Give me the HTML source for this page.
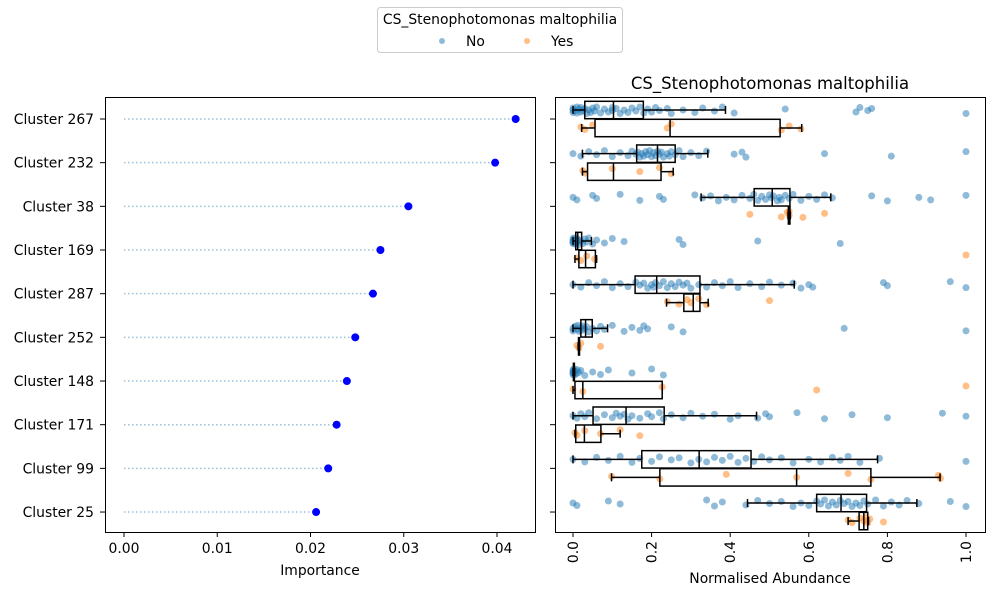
<!DOCTYPE html>
<html><head><meta charset="utf-8"><style>
body{margin:0;background:#fff;}
svg{display:block;font-family:"DejaVu Sans","Liberation Sans",sans-serif;}
</style></head><body>
<svg id="fig" width="1000" height="600" viewBox="0 0 1000 600"></svg>
<script>
const clusters = ["Cluster 267","Cluster 232","Cluster 38","Cluster 169","Cluster 287","Cluster 252","Cluster 148","Cluster 171","Cluster 99","Cluster 25"];
const importance = [0.0420,0.0398,0.0305,0.0275,0.0267,0.0248,0.0239,0.0228,0.0219,0.0206];
const impTicks = [0,0.01,0.02,0.03,0.04];
const impTickLabels = ["0.00","0.01","0.02","0.03","0.04"];
const abTicks = [0,0.2,0.4,0.6,0.8,1.0];
const abTickLabels = ["0.0","0.2","0.4","0.6","0.8","1.0"];
// box stats: [whiskerLow, q1, median, q3, whiskerHigh]
const boxNo = [
 [0,0.03,0.103,0.179,0.388],
 [0.024,0.162,0.215,0.26,0.343],
 [0.326,0.461,0.507,0.552,0.656],
 [0,0.007,0.012,0.022,0.047],
 [0,0.158,0.213,0.323,0.563],
 [0,0.02,0.032,0.049,0.088],
 [0,0.001,0.002,0.003,0.004],
 [0,0.051,0.135,0.232,0.467],
 [0,0.175,0.321,0.453,0.775],
 [0.444,0.62,0.682,0.747,0.875]];
const boxYes = [
 [0.022,0.056,0.247,0.527,0.582],
 [0.024,0.037,0.103,0.224,0.255],
 [0.547,0.548,0.549,0.552,0.553],
 [0.005,0.015,0.032,0.057,0.06],
 [0.238,0.282,0.306,0.323,0.344],
 [0.013,0.014,0.015,0.016,0.017],
 [0,0.005,0.025,0.227,0.227],
 [0.005,0.007,0.029,0.071,0.12],
 [0.098,0.221,0.569,0.758,0.934],
 [0.7,0.728,0.74,0.75,0.752]];
const ptsNo = [
 [0,0,0,0.005,0.01,0.01,0.015,0.02,0.02,0.025,0.03,0.035,0.04,0.045,0.05,0.055,0.06,0.07,0.08,0.09,0.1,0.1,0.11,0.12,0.13,0.14,0.15,0.16,0.17,0.18,0.19,0.2,0.21,0.22,0.24,0.25,0.28,0.31,0.33,0.36,0.38,0.41,0.54,0.72,0.73,0.75,0.76,1.0],
 [0,0.02,0.04,0.06,0.08,0.1,0.12,0.14,0.15,0.16,0.165,0.17,0.175,0.18,0.185,0.19,0.195,0.2,0.205,0.21,0.215,0.22,0.225,0.23,0.24,0.245,0.25,0.26,0.27,0.28,0.3,0.32,0.34,0.41,0.43,0.44,0.64,0.81,1.0],
 [0,0.01,0.05,0.06,0.12,0.17,0.22,0.23,0.31,0.33,0.35,0.37,0.39,0.41,0.43,0.45,0.46,0.47,0.48,0.49,0.5,0.505,0.51,0.52,0.525,0.53,0.54,0.55,0.56,0.58,0.6,0.62,0.64,0.66,0.76,0.8,0.88,0.91,1.0],
 [0,0,0,0,0.002,0.005,0.005,0.008,0.01,0.01,0.012,0.015,0.02,0.025,0.03,0.035,0.04,0.05,0.06,0.08,0.1,0.13,0.27,0.28,0.47,0.68],
 [0,0.02,0.04,0.06,0.08,0.1,0.12,0.14,0.16,0.17,0.18,0.19,0.2,0.205,0.21,0.22,0.23,0.24,0.25,0.26,0.27,0.28,0.29,0.3,0.32,0.34,0.36,0.38,0.4,0.42,0.45,0.48,0.5,0.53,0.56,0.58,0.6,0.61,0.79,0.8,0.96,1.0],
 [0,0,0.005,0.01,0.012,0.015,0.02,0.022,0.025,0.03,0.035,0.04,0.05,0.06,0.07,0.08,0.1,0.13,0.15,0.17,0.18,0.19,0.25,0.28,0.69,1.0],
 [0,0,0,0,0.002,0.003,0.005,0.008,0.01,0.015,0.02,0.03,0.05,0.07,0.09,0.15,0.2,0.23],
 [0,0.01,0.02,0.03,0.04,0.06,0.08,0.1,0.11,0.12,0.13,0.14,0.15,0.17,0.19,0.2,0.22,0.23,0.25,0.28,0.3,0.33,0.36,0.4,0.42,0.47,0.49,0.5,0.57,0.64,0.71,0.8,0.94,1.0],
 [0,0.03,0.06,0.09,0.12,0.15,0.17,0.2,0.22,0.25,0.27,0.3,0.32,0.34,0.36,0.38,0.4,0.42,0.44,0.46,0.48,0.5,0.53,0.56,0.6,0.63,0.66,0.68,0.7,0.73,0.78,1.0],
 [0,0.01,0.09,0.12,0.34,0.36,0.38,0.44,0.47,0.5,0.53,0.56,0.58,0.6,0.62,0.63,0.64,0.65,0.66,0.67,0.68,0.69,0.7,0.71,0.72,0.73,0.74,0.75,0.77,0.79,0.81,0.83,0.85,0.88,0.96,1.0]];
const ptsYes = [
 [0.02,0.03,0.05,0.24,0.25,0.53,0.55,0.58],
 [0.025,0.03,0.1,0.17,0.22,0.25],
 [0.45,0.53,0.545,0.55,0.55,0.585,0.64],
 [0.01,0.02,0.035,0.055,1.0],
 [0.24,0.27,0.29,0.3,0.32,0.34,0.5],
 [0.01,0.015,0.02,0.07],
 [0,0.025,0.227,0.62,1.0],
 [0.005,0.01,0.03,0.07,0.12,0.17],
 [0.098,0.221,0.39,0.569,0.7,0.758,0.93,0.935],
 [0.7,0.71,0.73,0.74,0.745,0.75,0.755,0.79]];

const NS="http://www.w3.org/2000/svg";
const svg=document.getElementById('fig');
function mk(tag,attrs,parent,text){const e=document.createElementNS(NS,tag);for(const k in attrs)e.setAttribute(k,attrs[k]);if(text!==undefined)e.textContent=text;(parent||svg).appendChild(e);return e;}
const L={x0:105,x1:535,y0:97,y1:532}, R={x0:555,x1:985,y0:97,y1:532};
const FS=13.9;
const xImp=v=>124+v*9325;
const xAb=v=>573+v*393;
const yRow=i=>119+i*43.67;

// legend
const leg=mk('g',{});


mk('rect',{x:377.5,y:7.5,width:245,height:45,rx:3,fill:'#fff',stroke:'#ccc'},leg);
mk('text',{x:500,y:24,'font-size':FS,'text-anchor':'middle'},leg,'CS_Stenophotomonas maltophilia');
const e1=mk('g',{},leg);
mk('circle',{cx:442,cy:41,r:3,fill:'#1f77b4','fill-opacity':0.5},e1);
mk('text',{x:466,y:46,'font-size':FS},e1,'No');
const e2=mk('g',{},leg);
mk('circle',{cx:527,cy:41,r:3,fill:'#ff7f0e','fill-opacity':0.5},e2);
mk('text',{x:551,y:46,'font-size':FS},e2,'Yes');

// left panel
const lp=mk('g',{});
clusters.forEach((c,i)=>{
  const y=yRow(i);
  const ln=mk('line',{x1:xImp(0),x2:xImp(importance[i]),y1:y,y2:y,stroke:'#1f77b4','stroke-opacity':0.45,'stroke-width':1.5,'stroke-dasharray':'1.5,2.5'},lp);
  
  const d=mk('circle',{cx:xImp(importance[i]),cy:y,r:4,fill:'#0000ff'},lp);
  
  mk('line',{x1:L.x0-5,x2:L.x0,y1:y,y2:y,stroke:'#000'},lp);
  const t=mk('text',{x:L.x0-11,y:y+5,'font-size':FS,'text-anchor':'end'},lp,c);
  
});
impTicks.forEach((v,i)=>{
  mk('line',{x1:xImp(v),x2:xImp(v),y1:L.y1,y2:L.y1+5,stroke:'#000'},lp);
  const t=mk('text',{x:xImp(v),y:L.y1+21,'font-size':FS,'text-anchor':'middle'},lp,impTickLabels[i]);
  
});
mk('rect',{x:L.x0+0.5,y:L.y0+0.5,width:L.x1-L.x0,height:L.y1-L.y0,fill:'none',stroke:'#000'},lp);
const xl=mk('text',{x:320,y:575,'font-size':FS,'text-anchor':'middle'},lp,'Importance');


// right panel
const rp=mk('g',{});
const ttl=mk('text',{x:770,y:89,'font-size':16.5,'text-anchor':'middle'},rp,'CS_Stenophotomonas maltophilia');

const jit=[0,2.5,-2,1,-3,3,-1,2,-2.5,0.5,-1.5,3.5];
function drawPts(arr,y,color,name){arr.forEach((v,j)=>{const p=mk('circle',{cx:xAb(v),cy:y+jit[j%12],r:3.5,fill:color,'fill-opacity':0.5},rp);
  });}
function drawBox(b,y,name){const g=mk('g',{fill:'none',stroke:'#000','stroke-width':1.5},rp);
  
  const h=8.7;
  mk('line',{x1:xAb(b[0]),x2:xAb(b[1]),y1:y,y2:y},g);
  mk('line',{x1:xAb(b[3]),x2:xAb(b[4]),y1:y,y2:y},g);
  mk('line',{x1:xAb(b[0]),x2:xAb(b[0]),y1:y-4,y2:y+4},g);
  mk('line',{x1:xAb(b[4]),x2:xAb(b[4]),y1:y-4,y2:y+4},g);
  mk('rect',{x:xAb(b[1]),y:y-h,width:Math.max(xAb(b[3])-xAb(b[1]),1),height:2*h},g);
  mk('line',{x1:xAb(b[2]),x2:xAb(b[2]),y1:y-h,y2:y+h},g);}
clusters.forEach((c,i)=>{
  const y=yRow(i);
  drawPts(ptsNo[i],y-9,'#1f77b4','strip-point-no');
  drawPts(ptsYes[i],y+8,'#ff7f0e','strip-point-yes');
  drawBox(boxNo[i],y-9,'box-no');
  drawBox(boxYes[i],y+9,'box-yes');
  mk('line',{x1:R.x0-5,x2:R.x0,y1:y,y2:y,stroke:'#000'},rp);
});
abTicks.forEach((v,i)=>{
  mk('line',{x1:xAb(v),x2:xAb(v),y1:R.y1,y2:R.y1+5,stroke:'#000'},rp);
  const t=mk('text',{x:0,y:0,'font-size':FS,'text-anchor':'end',transform:`translate(${xAb(v)+5},${R.y1+9}) rotate(-90)`},rp,abTickLabels[i]);
  
});
mk('rect',{x:R.x0+0.5,y:R.y0+0.5,width:R.x1-R.x0,height:R.y1-R.y0,fill:'none',stroke:'#000'},rp);
const xr=mk('text',{x:770,y:583,'font-size':FS,'text-anchor':'middle'},rp,'Normalised Abundance');

</script>
</body></html>
